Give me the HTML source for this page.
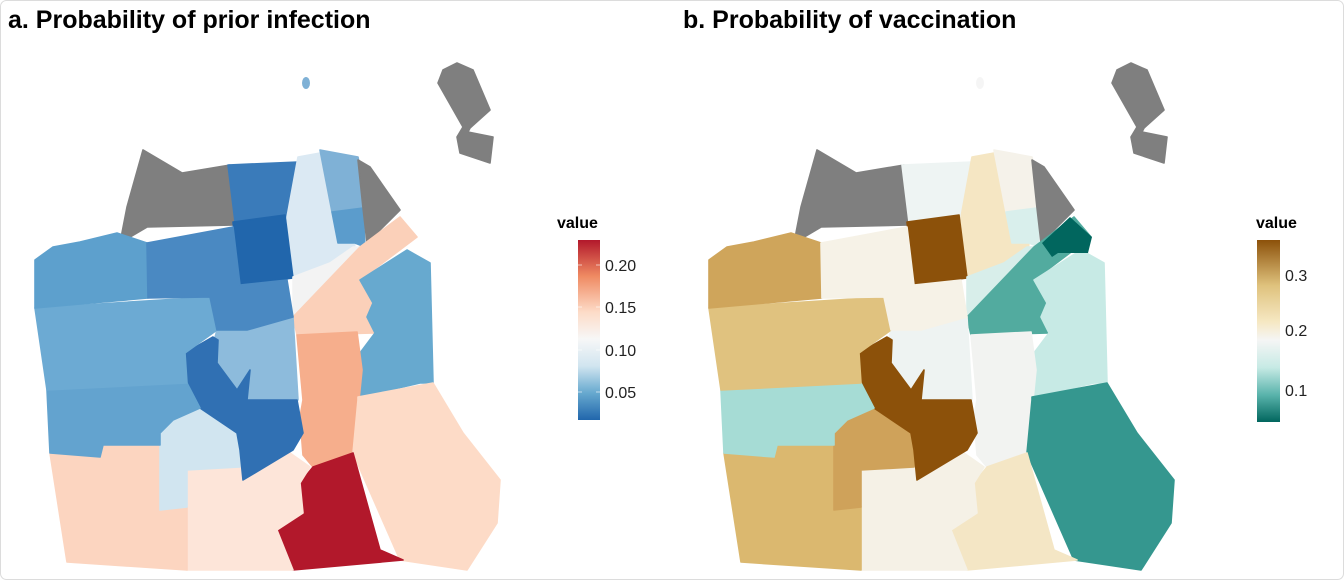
<!DOCTYPE html>
<html><head><meta charset="utf-8"><style>
html,body{margin:0;padding:0;background:#fff;}
svg{display:block;font-family:"Liberation Sans",Arial,sans-serif;}
use{stroke-width:1.6;stroke-linejoin:round;}
</style></head><body>
<svg width="1344" height="580" viewBox="0 0 1344 580" xmlns="http://www.w3.org/2000/svg">
<defs>
<polygon id="presidio" points="143,150 182,173 230,165 233,167 235,225 147,227 120,243 127,207"/>
<polygon id="marina" points="228,165 298,162 303,215 235,222"/>
<polygon id="russian" points="298,157 320,153 337,212 338,243 355,243 353,263 330,263 293,277 287,217"/>
<polygon id="nbeach" points="320,150 358,157 368,208 332,212"/>
<polygon id="telegraph" points="332,212 363,208 365,247 355,243 338,243"/>
<polygon id="fin" points="358,160 370,167 400,210 367,243 363,208"/>
<polygon id="pac" points="233,222 285,215 293,278 240,285"/>
<polygon id="tender" points="293,277 330,263 353,247 362,247 293,317"/>
<polygon id="soma" points="360,247 400,217 417,237 360,280 373,303 367,317 375,333 297,335 293,317"/>
<polygon id="potrero" points="360,280 407,250 430,263 433,383 420,383 360,397 357,357 375,333 367,317 373,303"/>
<polygon id="mission" points="297,335 357,332 362,370 359,400 353,453 313,467 303,455 300,417 303,400"/>
<polygon id="bayview" points="358,397 433,383 463,433 500,480 497,523 467,570 400,560 353,453 358,400"/>
<polygon id="excel" points="313,467 353,453 380,550 403,560 293,570 277,530 303,513 300,483"/>
<polygon id="ocean" points="187,470 240,467 290,453 310,467 300,483 303,513 277,530 293,570 187,570"/>
<polygon id="lake" points="50,453 100,457 103,445 160,445 160,510 187,507 187,570 67,562"/>
<polygon id="wtp" points="160,433 173,420 200,408 240,430 245,437 240,467 187,470 187,507 160,510"/>
<polygon id="castro" points="217,330 247,330 293,317 298,400 247,400 250,370 237,390 215,363 213,345"/>
<polygon id="noe" points="185,353 213,337 218,340 217,363 237,390 250,370 247,400 297,400 303,433 293,450 243,480 240,450 237,433 200,408 187,383"/>
<polygon id="ssunset" points="47,390 163,383 187,383 200,408 173,420 160,433 160,445 103,445 100,457 50,453"/>
<polygon id="isunset" points="35,308 210,297 217,330 185,353 187,383 47,390"/>
<polygon id="rich" points="35,260 53,247 80,242 117,233 147,243 148,298 35,308"/>
<polygon id="irich" points="147,243 233,227 240,285 287,280 293,317 247,330 217,330 210,297 148,298"/>
<polygon id="ti" points="443,70 457,63 473,70 490,110 470,128 468,132 493,137 490,163 460,153 457,137 463,127 438,83"/>
<ellipse id="alc" cx="306" cy="83" rx="4" ry="6"/>
<linearGradient id="g1" x1="0" y1="0" x2="0" y2="1">
<stop offset="0" stop-color="#b2182b"/><stop offset="0.2" stop-color="#ef8a62"/><stop offset="0.4" stop-color="#fddbc7"/><stop offset="0.55" stop-color="#f7f7f7"/><stop offset="0.7" stop-color="#d1e5f0"/><stop offset="0.85" stop-color="#67a9cf"/><stop offset="1" stop-color="#2166ac"/>
</linearGradient>
<linearGradient id="g2" x1="0" y1="0" x2="0" y2="1">
<stop offset="0" stop-color="#8c510a"/><stop offset="0.25" stop-color="#dfc27d"/><stop offset="0.45" stop-color="#f6e8c3"/><stop offset="0.55" stop-color="#f5f5f5"/><stop offset="0.7" stop-color="#c7eae5"/><stop offset="0.85" stop-color="#5ab4ac"/><stop offset="1" stop-color="#01665e"/>
</linearGradient>
</defs>
<rect x="0.5" y="0.5" width="1343" height="579" rx="6" fill="#fff" stroke="#dcdcdc"/>
<text x="8" y="28" font-size="25" font-weight="bold" fill="#000">a. Probability of prior infection</text>
<text x="683" y="28" font-size="25" font-weight="bold" fill="#000">b. Probability of vaccination</text>

<g>
<use href="#presidio" fill="#7f7f7f" stroke="#7f7f7f"/>
<use href="#marina" fill="#3a7bba" stroke="#3a7bba"/>
<use href="#russian" fill="#dbe9f3" stroke="#dbe9f3"/>
<use href="#nbeach" fill="#7fb1d6" stroke="#7fb1d6"/>
<use href="#telegraph" fill="#5b9ccc" stroke="#5b9ccc"/>
<use href="#fin" fill="#7f7f7f" stroke="#7f7f7f"/>
<use href="#pac" fill="#2166ac" stroke="#2166ac"/>
<use href="#tender" fill="#f3f3f3" stroke="#f3f3f3"/>
<use href="#soma" fill="#fbd0b9" stroke="#fbd0b9"/>
<use href="#potrero" fill="#67a9cf" stroke="#67a9cf"/>
<use href="#mission" fill="#f6ae8c" stroke="#f6ae8c"/>
<use href="#bayview" fill="#fddbc7" stroke="#fddbc7"/>
<use href="#excel" fill="#b2182b" stroke="#b2182b"/>
<use href="#ocean" fill="#fde5d9" stroke="#fde5d9"/>
<use href="#lake" fill="#fcd5c0" stroke="#fcd5c0"/>
<use href="#wtp" fill="#d1e5f0" stroke="#d1e5f0"/>
<use href="#castro" fill="#8dbbdc" stroke="#8dbbdc"/>
<use href="#noe" fill="#3070b3" stroke="#3070b3"/>
<use href="#ssunset" fill="#63a3cf" stroke="#63a3cf"/>
<use href="#isunset" fill="#6caad3" stroke="#6caad3"/>
<use href="#rich" fill="#5da0cd" stroke="#5da0cd"/>
<use href="#irich" fill="#4a89c2" stroke="#4a89c2"/>
<use href="#ti" fill="#7f7f7f" stroke="#7f7f7f"/>
<use href="#alc" fill="#7fb1d6"/>
</g>

<g transform="translate(674,0)">
<use href="#presidio" fill="#7f7f7f" stroke="#7f7f7f"/>
<use href="#marina" fill="#eef4f3" stroke="#eef4f3"/>
<use href="#russian" fill="#f5e6c3" stroke="#f5e6c3"/>
<use href="#nbeach" fill="#f5f2ea" stroke="#f5f2ea"/>
<use href="#telegraph" fill="#d9efec" stroke="#d9efec"/>
<use href="#fin" fill="#7f7f7f" stroke="#7f7f7f"/>
<use href="#pac" fill="#8c510a" stroke="#8c510a"/>
<use href="#tender" fill="#d8eeea" stroke="#d8eeea"/>
<use href="#soma" fill="#52ab9f" stroke="#52ab9f"/>
<use href="#potrero" fill="#c7eae5" stroke="#c7eae5"/>
<use href="#mission" fill="#f2f3f1" stroke="#f2f3f1"/>
<use href="#bayview" fill="#35978f" stroke="#35978f"/>
<use href="#excel" fill="#f4e6c5" stroke="#f4e6c5"/>
<use href="#ocean" fill="#f5f1e6" stroke="#f5f1e6"/>
<use href="#lake" fill="#dbb86f" stroke="#dbb86f"/>
<use href="#wtp" fill="#cfa25a" stroke="#cfa25a"/>
<use href="#castro" fill="#eef3f2" stroke="#eef3f2"/>
<use href="#noe" fill="#8c510a" stroke="#8c510a"/>
<use href="#ssunset" fill="#a6dcd5" stroke="#a6dcd5"/>
<use href="#isunset" fill="#e0c27f" stroke="#e0c27f"/>
<use href="#rich" fill="#cfa55b" stroke="#cfa55b"/>
<use href="#irich" fill="#f6f2e7" stroke="#f6f2e7"/>
<use href="#ti" fill="#7f7f7f" stroke="#7f7f7f"/>
<use href="#alc" fill="#f5f5f5"/>
</g>
<polygon points="1042,243 1070,217 1092,237 1088,253 1058,253 1052,257" fill="#01665e"/>

<text x="557" y="228" font-size="16" font-weight="bold" fill="#000">value</text>
<rect x="578" y="240" width="22" height="180" fill="url(#g1)"/>
<g stroke="#fff" stroke-width="1" opacity="0.6">
<line x1="578" y1="265" x2="582" y2="265"/><line x1="596" y1="265" x2="600" y2="265"/>
<line x1="578" y1="307" x2="582" y2="307"/><line x1="596" y1="307" x2="600" y2="307"/>
<line x1="578" y1="350" x2="582" y2="350"/><line x1="596" y1="350" x2="600" y2="350"/>
<line x1="578" y1="392" x2="582" y2="392"/><line x1="596" y1="392" x2="600" y2="392"/>
</g>
<g font-size="16" fill="#222">
<text x="605" y="271">0.20</text>
<text x="605" y="313">0.15</text>
<text x="605" y="356">0.10</text>
<text x="605" y="398">0.05</text>
</g>

<text x="1256" y="228" font-size="16" font-weight="bold" fill="#000">value</text>
<rect x="1257" y="240" width="23" height="182" fill="url(#g2)"/>
<g font-size="16" fill="#222">
<text x="1285" y="281">0.3</text>
<text x="1285" y="336">0.2</text>
<text x="1285" y="396">0.1</text>
</g>
</svg>
</body></html>
